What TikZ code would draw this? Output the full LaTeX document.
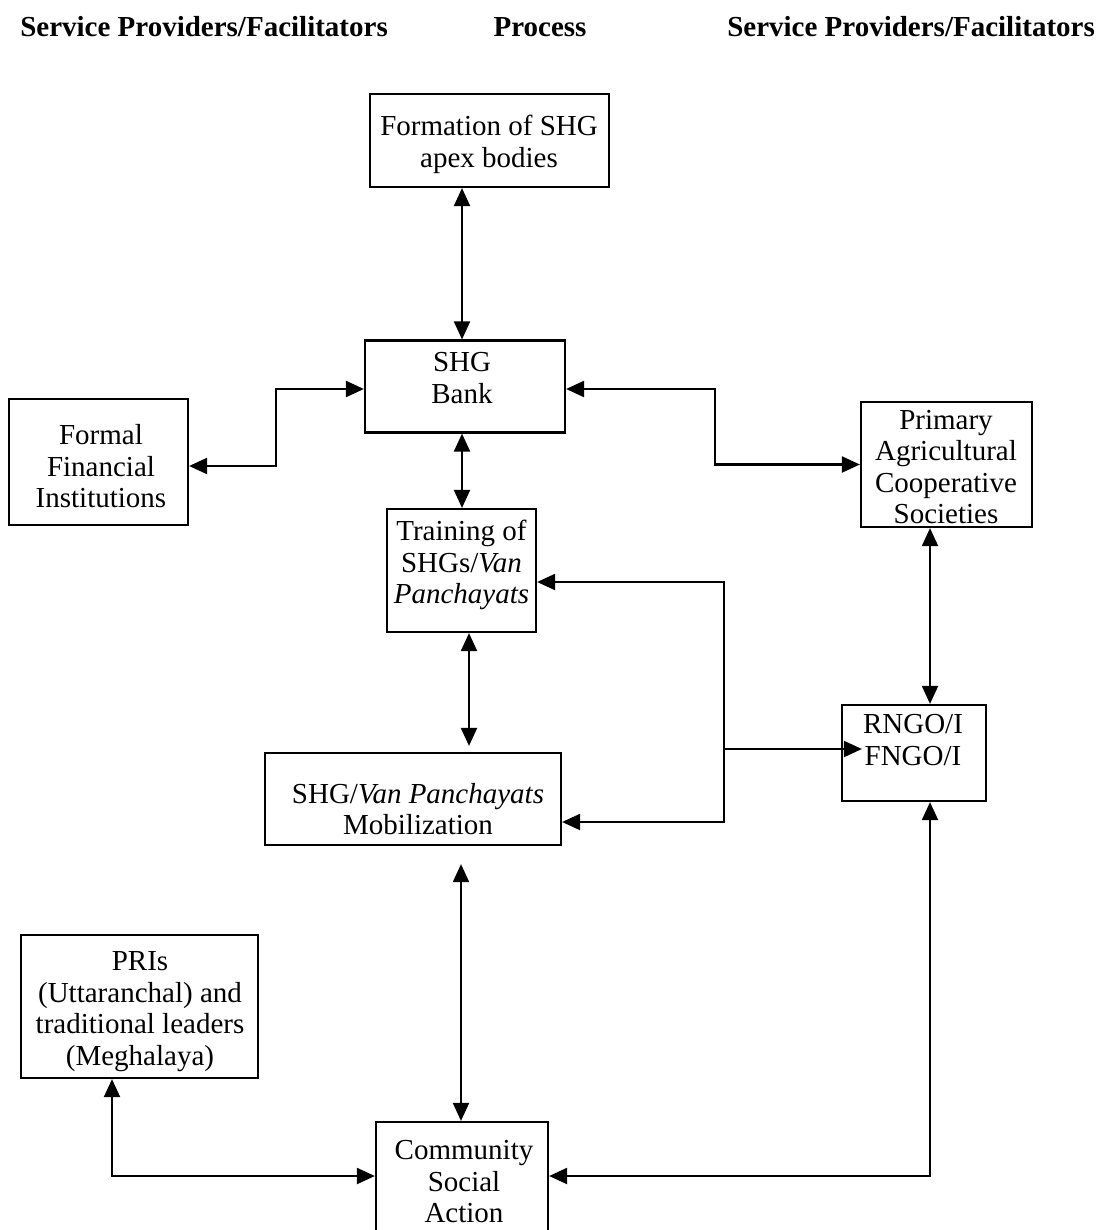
\documentclass[tikz,border=0pt]{standalone}
\usepackage{fontspec}
\setmainfont{Liberation Serif}
\usetikzlibrary{arrows.meta,calc}
\begin{document}
\begin{tikzpicture}[x=1pt,y=-1pt,
  box/.style={draw,line width=2.2pt,inner sep=0pt,rectangle},
  txt/.style={align=center,inner sep=0pt,font=\fontsize{29}{31.5}\selectfont},
  head/.style={inner sep=0pt,font=\fontsize{29}{31.5}\selectfont\bfseries},
  conn/.style={line width=2.1pt},
  dbl/.style={conn,{Triangle[length=18pt,width=16pt]}-{Triangle[length=18pt,width=16pt]}},
  sgl/.style={conn,-{Triangle[length=18pt,width=16pt]}}]
\useasboundingbox (0,0) rectangle (1099,1230);
\fill[white] (0,0) rectangle (1099,1230);

% headers
\node[head] (h1) at (204,27) {Service Providers/Facilitators};
\node[head] (h2) at (540,27) {Process};
\node[head] (h3) at (911,27) {Service Providers/Facilitators};

% boxes
\node[box,minimum width=239pt,minimum height=93pt] (form) at (489.5,140.5) {};
\node[txt] (formT) at (489,144.5) {Formation of SHG\\apex bodies};

\node[box,minimum width=200pt,minimum height=92pt] (bank) at (465,386.5) {};
\node[txt] (bankT) at (462,378) {SHG\\Bank};

\node[box,minimum width=179pt,minimum height=126pt] (formal) at (98.5,462) {};
\node[txt] (formalT) at (101,466.5) {Formal\\Financial\\Institutions};

\node[box,minimum width=171pt,minimum height=125pt] (pacs) at (946.5,464.5) {};
\node[txt] (pacsT) at (946,467) {Primary\\Agricultural\\Cooperative\\Societies};

\node[box,minimum width=149pt,minimum height=123pt] (train) at (461.5,570.5) {};
\node[txt] (trainT) at (461.5,565) {Training of\\SHGs/\textit{Van}\\\textit{Panchayats}};

\node[box,minimum width=296pt,minimum height=92pt] (mob) at (413,799) {};
\node[txt] (mobT) at (418,809) {SHG/\textit{Van Panchayats}\\Mobilization};

\node[box,minimum width=144pt,minimum height=96pt] (rngo) at (914,753) {};
\node[txt] (rngoT) at (913,740) {RNGO/I\\FNGO/I};

\node[box,minimum width=237pt,minimum height=143pt] (pri) at (139.5,1006.5) {};
\node[txt] (priT) at (140,1011.5) {PRIs\\(Uttaranchal) and\\traditional leaders\\(Meghalaya)};

\node[box,minimum width=172pt,minimum height=140pt] (comm) at (462,1192) {};
\node[txt] (commT) at (464,1182) {Community\\Social\\Action};

% lanes and rows
\coordinate (lA) at (462,0);
\coordinate (lB) at (469,0);
\coordinate (lC) at (461,0);
\coordinate (lD) at (930,0);
\coordinate (lE) at (276,0);
\coordinate (lF) at (715,0);
\coordinate (lG) at (724,0);
\coordinate (lH) at (112,0);
\coordinate (rB) at (0,389);
\coordinate (rT) at (0,582);
\coordinate (rM) at (0,822);
\coordinate (rR) at (0,749);
\coordinate (rC) at (0,1176);

% connectors
\draw[dbl] (form.south -| lA) -- (bank.north -| lA);
\draw[dbl] (bank.south -| lA) -- (train.north -| lA);
\draw[dbl] (train.south -| lB) -- ($(mob.north -| lB)+(0,-6)$);
\draw[dbl] ($(mob.south -| lC)+(0,18)$) -- (comm.north -| lC);
\draw[dbl] (formal.east |- 0,466) -| (lE |- rB) -- (bank.west |- rB);
\draw[dbl] (bank.east |- rB) -| (lF |- pacs.west) -- (pacs.west);
\draw[dbl] (train.east |- rT) -| (lG |- rM) -- (mob.east |- rM);
\draw[sgl] (lG |- rR) -- ($(rngo.west |- rR)+(21,0)$);
\draw[dbl] (pacs.south -| lD) -- (rngo.north -| lD);
\draw[dbl] (rngo.south -| lD) |- (comm.east |- rC);
\draw[dbl] (pri.south -| lH) |- (comm.west |- rC);
\end{tikzpicture}
\end{document}
